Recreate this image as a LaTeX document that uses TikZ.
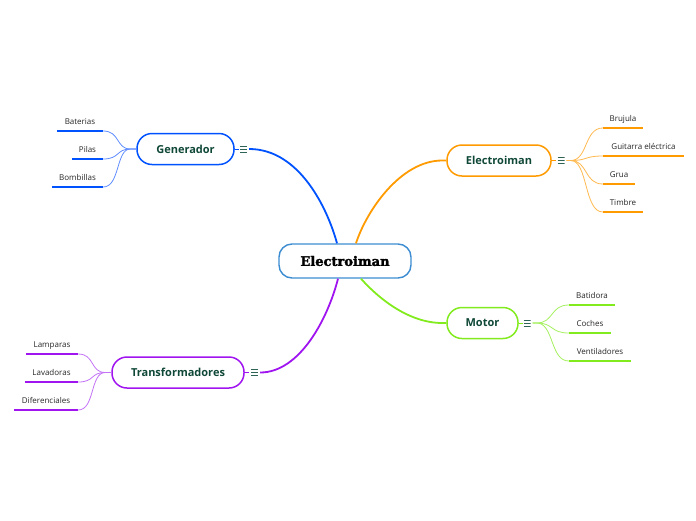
\documentclass[tikz,border=0pt]{standalone}
\usepackage{fontspec}
\setmainfont{Open Sans}
\newfontfamily\titlefont[FakeBold=2.2]{DejaVu Serif Bold}
\definecolor{blueC}{RGB}{0,82,255}
\definecolor{blueL}{RGB}{95,140,255}
\definecolor{orangeC}{RGB}{255,155,0}
\definecolor{orangeL}{RGB}{255,185,80}
\definecolor{greenC}{RGB}{130,235,30}
\definecolor{greenL}{RGB}{165,240,95}
\definecolor{purpleC}{RGB}{160,20,240}
\definecolor{purpleL}{RGB}{195,115,245}
\definecolor{textC}{RGB}{16,72,56}
\definecolor{iconC}{RGB}{45,100,85}
\definecolor{centerC}{RGB}{60,140,210}
\tikzset{
  mainbox/.style={draw, line width=1.5pt, fill=white, rounded corners=15pt, minimum height=31pt, inner sep=0pt,
    font=\fontsize{11}{12}\selectfont\bfseries, text=textC},
  centerbox/.style={draw=centerC, line width=1.4pt, fill=white, rounded corners=13pt, minimum width=132pt, minimum height=34pt, inner sep=0pt,
    font=\titlefont\fontsize{13}{13}\selectfont, text=black},
  menuicon/.style={inner sep=0pt, minimum width=7pt, minimum height=7pt,
    path picture={\draw[iconC, line width=1pt]
      ([yshift=-0.5pt]path picture bounding box.north west) -- ([yshift=-0.5pt]path picture bounding box.north east)
      ([yshift=-3.5pt]path picture bounding box.north west) -- ([yshift=-3.5pt]path picture bounding box.north east)
      ([yshift=0.5pt]path picture bounding box.south west) -- ([yshift=0.5pt]path picture bounding box.south east);}},
  leaf/.style={anchor=south, inner xsep=0pt, inner ysep=4pt, text height=6pt, text depth=2pt,
    font=\fontsize{8}{9}\selectfont, text=black!85},
  under/.style={line width=2.4pt},
  mainline/.style={line width=1.8pt},
  stub/.style={line width=1pt},
  twig/.style={line width=0.8pt}
}
\begin{document}
\begin{tikzpicture}[x=1pt,y=-1pt]
\useasboundingbox (0,0) rectangle (696,520);
% central
\node[centerbox] (c) at (345,261) {Electroiman};
% Generador
\node[mainbox, draw=blueC, minimum width=97pt] (gen) at (185.5,149) {Generador};
\node[menuicon] (geni) at (243.5,149) {};
\draw[blueC, stub] (gen.east) -- ++(4,0);
\draw[blueC, mainline] ([xshift=2pt]geni.east) .. controls (300,149) and (328,210) .. ([xshift=-8pt]c.north);
\node[leaf, minimum width=46pt] (b1) at (80,131) {Baterias};
\node[leaf, minimum width=31pt] (b2) at (87.5,159) {Pilas};
\node[leaf, minimum width=51pt] (b3) at (77.5,187) {Bombillas};
\foreach \n in {b1,b2,b3}{
  \draw[blueC, under] (\n.south west) -- (\n.south east);
  \draw[blueL, twig] (gen.west) -- ++(-6,0) .. controls (116,149) and (120,0 |- \n.south) .. (\n.south east);
}
% Electroiman
\node[mainbox, draw=orangeC, minimum width=104pt] (el) at (499,160.5) {Electroiman};
\node[menuicon] (eli) at (561,160.5) {};
\draw[orangeC, stub] (el.east) -- ++(4,0);
\draw[orangeC, mainline] (el.west) -- ++(-4,0) .. controls (400,160.5) and (366,212) .. ([xshift=11pt]c.north);
\node[leaf, minimum width=40pt] (e1) at (623,128) {Brujula};
\node[leaf, minimum width=81pt] (e2) at (643.5,156) {Guitarra eléctrica};
\node[leaf, minimum width=32pt] (e3) at (619,184) {Grua};
\node[leaf, minimum width=40pt] (e4) at (623,212) {Timbre};
\foreach \n in {e1,e2,e3,e4}{
  \draw[orangeC, under] (\n.south west) -- (\n.south east);
  \draw[orangeL, twig] ([xshift=2pt]eli.east) -- ++(4,0) .. controls (588,160.5) and (584,0 |- \n.south) .. (\n.south west);
}
% Motor
\node[mainbox, draw=greenC, minimum width=71pt] (mo) at (482.5,323) {Motor};
\node[menuicon] (moi) at (527,323) {};
\draw[greenC, stub] (mo.east) -- ++(4,0);
\draw[greenC, mainline] (mo.west) -- ++(-4,0) .. controls (410,323) and (380,300) .. ([xshift=16pt]c.south);
\node[leaf, minimum width=46pt] (m1) at (592,305) {Batidora};
\node[leaf, minimum width=42pt] (m2) at (590,333) {Coches};
\node[leaf, minimum width=62pt] (m3) at (600,361) {Ventiladores};
\foreach \n in {m1,m2,m3}{
  \draw[greenC, under] (\n.south west) -- (\n.south east);
  \draw[greenL, twig] ([xshift=2pt]moi.east) -- ++(4,0) .. controls (554,323) and (550,0 |- \n.south) .. (\n.south west);
}
% Transformadores
\node[mainbox, draw=purpleC, minimum width=132pt] (tr) at (178,372.5) {Transformadores};
\node[menuicon] (tri) at (254.5,372.5) {};
\draw[purpleC, stub] (tr.east) -- ++(4,0);
\draw[purpleC, mainline] ([xshift=2pt]tri.east) .. controls (300,372.5) and (328,318) .. ([xshift=-7pt]c.south);
\node[leaf, minimum width=52pt] (t1) at (52,354) {Lamparas};
\node[leaf, minimum width=53pt] (t2) at (51.5,382) {Lavadoras};
\node[leaf, minimum width=64pt] (t3) at (46,410) {Diferenciales};
\foreach \n in {t1,t2,t3}{
  \draw[purpleC, under] (\n.south west) -- (\n.south east);
  \draw[purpleL, twig] (tr.west) -- ++(-6,0) .. controls (90,372.5) and (95,0 |- \n.south) .. (\n.south east);
}
\end{tikzpicture}
\end{document}
